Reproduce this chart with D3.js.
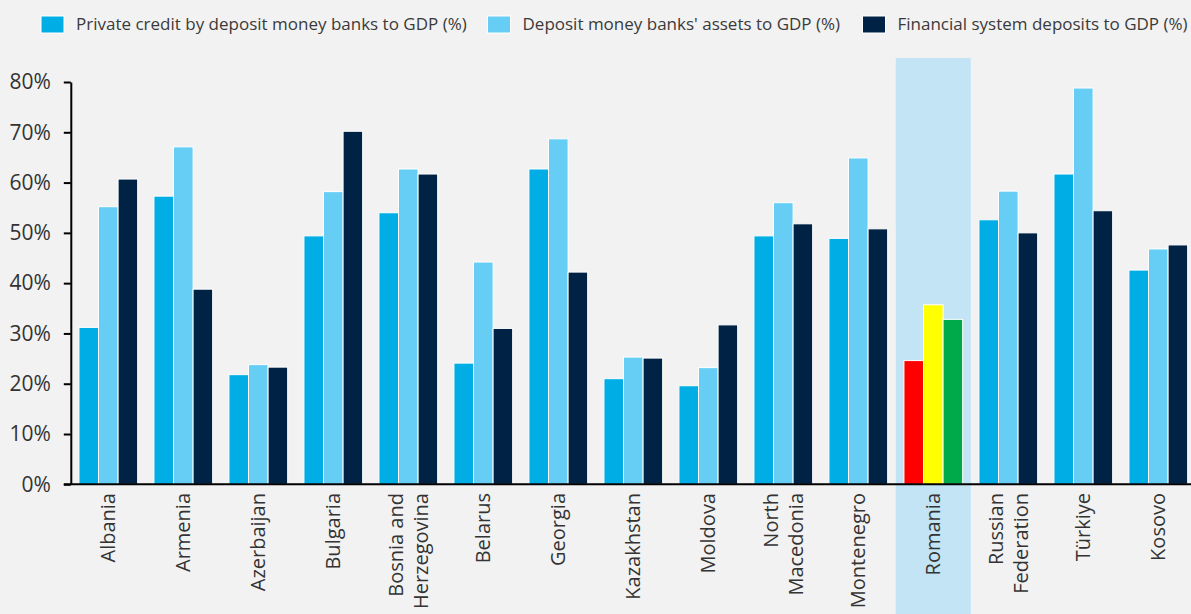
<!DOCTYPE html>
<meta charset="utf-8">
<title>Financial depth by country</title>
<style>
body {
  margin: 0;
  background-color: #f2f2f2;
  font-family: 'Open Sans', 'Noto Sans', sans-serif;
}
svg { display: block; }
.axis text { fill: #333; }
</style>
<svg width="1191" height="614"></svg>
<script src="https://d3js.org/d3.v7.min.js"></script>
<script>
var countries = ["Albania", "Armenia", "Azerbaijan", "Bulgaria", "Bosnia and|Herzegovina",
  "Belarus", "Georgia", "Kazakhstan", "Moldova", "North|Macedonia", "Montenegro",
  "Romania", "Russian|Federation", "Türkiye", "Kosovo"];

var privateCredit = [31.2, 57.3, 21.8, 49.4, 54.0, 24.1, 62.7, 21.0, 19.6, 49.4, 48.9, 24.6, 52.6, 61.7, 42.6],
    bankAssets    = [55.2, 67.1, 23.8, 58.2, 62.7, 44.2, 68.7, 25.3, 23.2, 56.0, 64.9, 35.7, 58.3, 78.8, 46.8],
    deposits      = [60.7, 38.8, 23.3, 70.2, 61.7, 31.0, 42.2, 25.1, 31.7, 51.8, 50.8, 32.8, 50.0, 54.4, 47.6];

var seriesNames = ["Private credit by deposit money banks to GDP (%)",
  "Deposit money banks' assets to GDP (%)",
  "Financial system deposits to GDP (%)"];
var seriesColors = ["#00aee5", "#66cdf4", "#002345"];
var highlight = "Romania";
var highlightColors = ["#ff0000", "#ffff00", "#00aa4b"];

var yTicks = [0, 10, 20, 30, 40, 50, 60, 70, 80];

var svg = d3.select("svg");

var left = 70.8, step = 75, baseY = 484.3, topY = 82;

var x0 = d3.scaleBand()
    .domain(countries)
    .range([left, left + step * countries.length])
    .paddingInner(0.217)
    .paddingOuter(0.1085);

var x1 = d3.scaleBand()
    .domain([0, 1, 2])
    .range([0, x0.bandwidth()]);

var y = d3.scaleLinear()
    .domain([0, 80])
    .range([baseY, topY]);

var rows = countries.map(function(c, i) {
  return { country: c, values: [privateCredit[i], bankAssets[i], deposits[i]] };
});

// highlight band behind Romania
var hx = x0(highlight) - x0.step() * x0.paddingInner() / 2;
svg.append("rect")
    .attr("x", hx)
    .attr("y", 58)
    .attr("width", x0.step())
    .attr("height", 614 - 58)
    .attr("fill", "#c2e4f5");

var groups = svg.selectAll("g.group")
  .data(rows)
  .enter().append("g")
    .attr("class", "group")
    .attr("transform", function(d) { return "translate(" + x0(d.country) + ",0)"; });

groups.selectAll("rect")
  .data(function(d) {
    return d.values.map(function(v, k) { return { k: k, v: v, hl: d.country === highlight }; });
  })
  .enter().append("rect")
    .attr("x", function(d) { return x1(d.k); })
    .attr("y", function(d) { return y(d.v); })
    .attr("width", x1.bandwidth())
    .attr("height", function(d) { return baseY - y(d.v); })
    .attr("fill", function(d) { return d.hl ? highlightColors[d.k] : seriesColors[d.k]; })
    .attr("stroke", "#fff")
    .attr("stroke-width", 1);

// y axis
var yAxis = svg.append("g")
    .attr("class", "axis")
    .attr("transform", "translate(" + left + ",0)")
    .call(d3.axisLeft(y).tickValues(yTicks).tickFormat(function(d) { return d + "%"; })
      .tickSize(7).tickPadding(13).tickSizeOuter(0));
yAxis.select(".domain").attr("stroke", "#000").attr("stroke-width", 2);
yAxis.selectAll(".tick line").attr("stroke", "#000").attr("stroke-width", 2);
yAxis.selectAll("text").attr("font-size", 21).attr("font-family", "'Open Sans', sans-serif");

// x axis line
svg.append("line")
    .attr("x1", left - 7).attr("x2", 1191)
    .attr("y1", baseY).attr("y2", baseY)
    .attr("stroke", "#000").attr("stroke-width", 2);

// x labels, rotated
var labels = svg.selectAll("text.xlab")
  .data(countries)
  .enter().append("text")
    .attr("class", "xlab")
    .attr("transform", function(d) {
      return "translate(" + (x0(d) + x0.bandwidth() / 2) + "," + 493 + ") rotate(-90)";
    })
    .attr("text-anchor", "end")
    .attr("font-size", 20)
    .attr("fill", "#333");

labels.each(function(d) {
  var lines = d.split("|"), el = d3.select(this);
  lines.forEach(function(line, i) {
    var off = (i - (lines.length - 1) / 2) * 25;
    el.append("tspan")
      .attr("x", 0)
      .attr("y", off)
      .attr("dy", "0.35em")
      .text(line);
  });
});

// legend
var legendX = [41, 487.5, 862.5];
var legend = svg.selectAll("g.legend")
  .data(seriesNames)
  .enter().append("g")
    .attr("class", "legend")
    .attr("transform", function(d, i) { return "translate(" + legendX[i] + ",0)"; });

legend.append("rect")
    .attr("x", 0).attr("y", 16)
    .attr("width", 23).attr("height", 17)
    .attr("fill", function(d, i) { return seriesColors[i]; })
    .attr("stroke", "#fff").attr("stroke-width", 1);

legend.append("text")
    .attr("x", 35)
    .attr("y", 30)
    .attr("font-size", 17)
    .attr("fill", "#3a3a3a")
    .text(function(d) { return d; });
</script>
